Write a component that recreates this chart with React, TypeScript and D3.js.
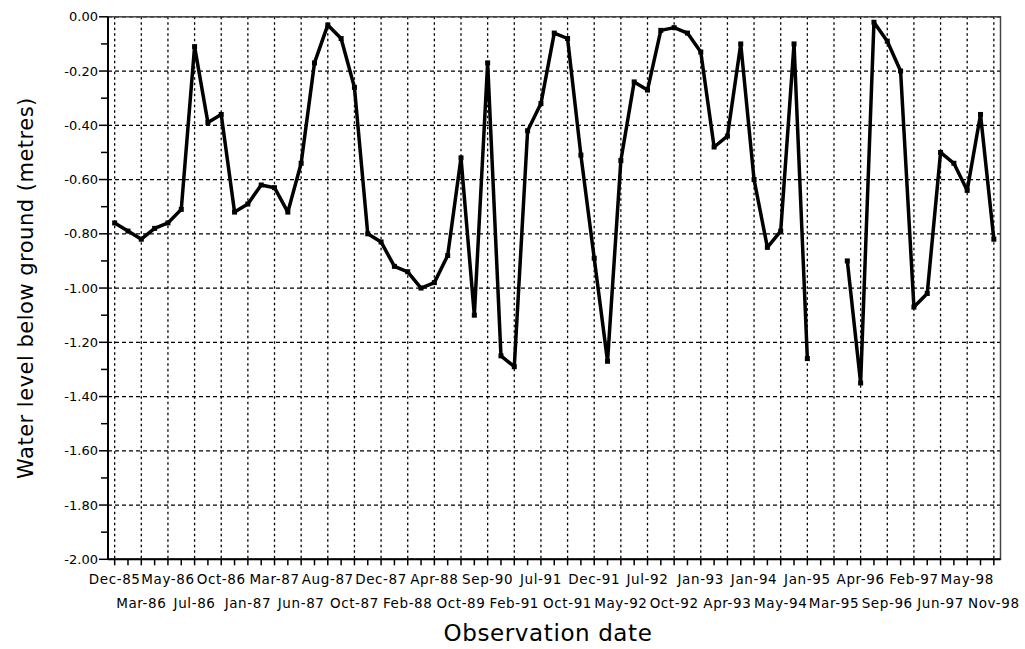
import React from "react";
import * as d3 from "d3";

// 67 observations; labels only on every other observation (alternating rows)
const tickLabels: string[] = [
  "Dec-85", "Mar-86", "May-86", "Jul-86", "Oct-86", "Jan-87", "Mar-87", "Jun-87",
  "Aug-87", "Oct-87", "Dec-87", "Feb-88", "Apr-88", "Oct-89", "Sep-90", "Feb-91",
  "Jul-91", "Oct-91", "Dec-91", "May-92", "Jul-92", "Oct-92", "Jan-93", "Apr-93",
  "Jan-94", "May-94", "Jan-95", "Mar-95", "Apr-96", "Sep-96", "Feb-97", "Jun-97",
  "May-98", "Nov-98",
];

const waterLevel: (number | null)[] = [
  -0.76, -0.79, -0.82, -0.78, -0.76, -0.71, -0.11, -0.39, -0.36, -0.72,
  -0.69, -0.62, -0.63, -0.72, -0.54, -0.17, -0.03, -0.08, -0.26, -0.80,
  -0.83, -0.92, -0.94, -1.00, -0.98, -0.88, -0.52, -1.10, -0.17, -1.25,
  -1.29, -0.42, -0.32, -0.06, -0.08, -0.51, -0.89, -1.27, -0.53, -0.24,
  -0.27, -0.05, -0.04, -0.06, -0.13, -0.48, -0.44, -0.10, -0.60, -0.85,
  -0.79, -0.10, -1.26, null, null, -0.90, -1.35, -0.02, -0.09, -0.20,
  -1.07, -1.02, -0.50, -0.54, -0.64, -0.36, -0.82,
];

const yMajorTicks: number[] = [0, -0.2, -0.4, -0.6, -0.8, -1.0, -1.2, -1.4, -1.6, -1.8, -2.0];
const yMinorTicks: number[] = [-0.1, -0.3, -0.5, -0.7, -0.9, -1.1, -1.3, -1.5, -1.7, -1.9];

const FONT = "'DejaVu Sans', 'Liberation Sans', Arial, sans-serif";

export default function App() {
  const W = 1025, H = 649;
  const left = 108, right = 1000.5, top = 16.8, bottom = 559.3;
  const idx = waterLevel.map((_, i) => i);
  const x = d3.scaleBand<number>().domain(idx).range([left, right]).padding(0);
  const cx = (i: number) => (x(i) as number) + x.bandwidth() / 2;
  const y = d3.scaleLinear().domain([-2, 0]).range([bottom, top]);

  const line = d3
    .line<number | null>()
    .defined((d) => d !== null)
    .x((_, i) => cx(i))
    .y((d) => y(d as number));

  const labelFor = (i: number) => (i % 2 === 0 ? tickLabels[i / 2] : "");

  return (
    <svg
      width={W}
      height={H}
      style={{ position: "absolute", left: 0, top: 0, display: "block", background: "#fff" }}
    >
      {/* vertical gridlines at labelled observations */}
      {idx.filter((i) => i % 2 === 0).map((i) => (
        <line key={"vg" + i} x1={cx(i)} x2={cx(i)} y1={top} y2={bottom}
          stroke="#000" strokeWidth={1.3} strokeDasharray="2.5,3" />
      ))}
      {/* horizontal gridlines */}
      {yMajorTicks.map((v) => (
        <line key={"hg" + v} x1={left} x2={right} y1={y(v)} y2={y(v)}
          stroke="#000" strokeWidth={1.3} strokeDasharray="4,3" />
      ))}
      {/* frame */}
      <rect x={left} y={top} width={right - left} height={bottom - top}
        fill="none" stroke="#444" strokeWidth={1.5} />
      <line x1={left} x2={left} y1={top} y2={bottom} stroke="#000" strokeWidth={2} />
      <line x1={left} x2={right} y1={bottom} y2={bottom} stroke="#000" strokeWidth={2} />

      {/* y ticks */}
      {yMajorTicks.map((v) => (
        <g key={"yt" + v}>
          <line x1={left - 9} x2={left} y1={y(v)} y2={y(v)} stroke="#000" strokeWidth={1.5} />
          <text x={left - 10} y={y(v)} dy="0.35em" textAnchor="end"
            fontFamily={FONT} fontSize={13} fill="#000">
            {v.toFixed(2)}
          </text>
        </g>
      ))}
      {yMinorTicks.map((v) => (
        <line key={"ym" + v} x1={left - 7} x2={left} y1={y(v)} y2={y(v)} stroke="#000" strokeWidth={1.5} />
      ))}

      {/* x ticks and labels */}
      {idx.map((i) => (
        <g key={"xt" + i}>
          <line x1={cx(i)} x2={cx(i)} y1={bottom} y2={bottom + 6} stroke="#000" strokeWidth={1.5} />
          {i % 2 === 0 && (
            <text x={cx(i)} y={(i / 2) % 2 === 0 ? 584 : 608} textAnchor="middle"
              fontFamily={FONT} fontSize={13.5} letterSpacing={0.6} fill="#000">
              {labelFor(i)}
            </text>
          )}
        </g>
      ))}

      {/* data line */}
      <path d={line(waterLevel) || ""} fill="none" stroke="#000" strokeWidth={3.5}
        strokeLinejoin="round" />
      {waterLevel.map((d, i) =>
        d === null ? null : (
          <rect key={"m" + i} x={cx(i) - 2.5} y={y(d) - 2.5} width={5} height={5} fill="#000" />
        )
      )}

      {/* axis titles */}
      <text x={548} y={641} textAnchor="middle" fontFamily={FONT} fontSize={23}
        letterSpacing={0.6} fill="#000">
        Observation date
      </text>
      <text transform={`translate(33,${(top + bottom) / 2}) rotate(-90)`} textAnchor="middle"
        fontFamily={FONT} fontSize={21} letterSpacing={0.5} fill="#000">
        Water level below ground (metres)
      </text>
    </svg>
  );
}
